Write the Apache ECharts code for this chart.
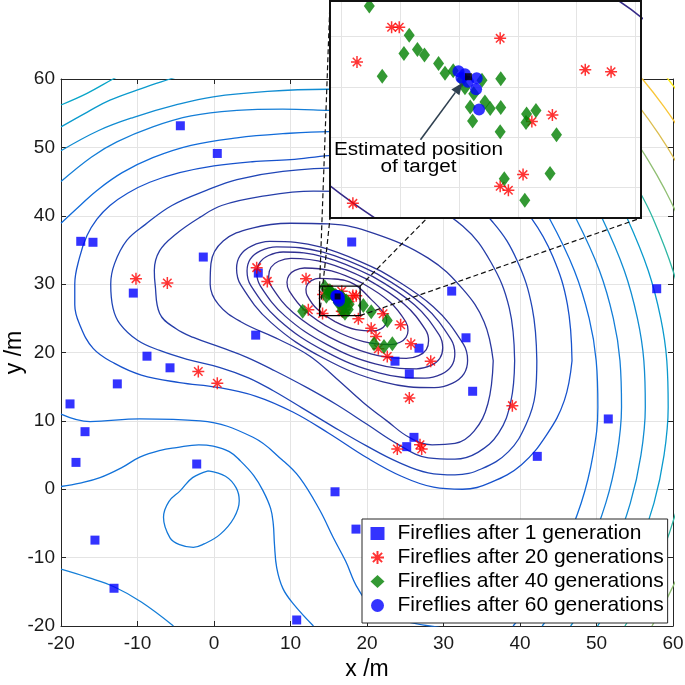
<!DOCTYPE html>
<html><head><meta charset="utf-8">
<script src="https://cdn.jsdelivr.net/npm/echarts@6/dist/echarts.min.js"></script>
<style>html,body{margin:0;padding:0;background:#fff}#c{width:685px;height:685px}</style>
</head><body><div id="c"></div>
<script>
// ---------------- data ----------------
const gen1 = [[-4.40,53.16],[0.43,49.11],[-17.42,36.26],[-15.82,36.12],[-1.40,33.96],[-10.55,28.69],[5.79,31.62],[5.45,22.54],[-8.76,19.46],[18.0,36.16],[31.07,28.98],[32.94,22.15],[26.80,20.63],[23.66,18.73],[25.53,16.88],[33.81,14.33],[51.54,10.28],[57.87,29.33],[26.14,7.59],[25.19,6.23],[42.26,4.81],[18.56,-5.83],[15.82,-0.37],[10.81,-19.12],[-2.26,3.69],[-18.82,12.48],[-16.86,8.42],[-18.04,3.93],[-15.56,-7.44],[-13.07,-14.48],[-12.64,15.41],[-5.75,17.76]];
const gen20 = [[-10.20,30.80],[-6.10,30.16],[5.58,32.41],[6.97,30.40],[12.03,30.80],[12.33,26.26],[-2.05,17.22],[0.43,15.50],[18.87,24.93],[22.10,25.67],[20.55,23.56],[21.18,22.34],[21.48,20.54],[22.65,19.41],[24.40,24.05],[25.75,21.27],[28.33,18.73],[25.53,13.36],[39.0,12.23],[23.96,5.89],[26.93,6.52],[27.15,5.89],[14.85,29.18],[14.98,29.18],[14.26,28.49],[16.70,28.96],[18.15,28.34],[18.59,28.30],[17.59,27.44],[17.24,27.31],[17.09,26.26],[16.70,26.03],[16.84,25.95],[14.19,25.69]];
const gen40 = [[11.59,26.05],[19.52,26.89],[20.55,25.95],[22.65,24.69],[20.92,21.27],[22.22,20.88],[23.31,21.27],[14.47,29.60],[15.15,29.02],[15.06,28.66],[15.29,28.74],[15.41,28.63],[14.69,28.21],[15.65,28.46],[15.76,28.27],[15.90,28.32],[16.39,28.13],[16.25,27.86],[16.71,28.16],[16.19,27.60],[16.44,27.70],[16.53,27.57],[16.71,27.59],[16.23,27.32],[16.70,27.11],[17.15,27.46],[17.14,27.29],[17.31,27.53],[17.66,27.05],[16.77,26.18],[17.55,26.28],[17.12,25.75],[16.05,28.14],[16.10,27.98]];
const gen60 = [[15.99,28.31],[16.04,28.18],[16.15,28.10],[16.30,28.17],[16.29,27.95],[16.34,27.55],[16.10,28.25]];
const target = [16.16, 28.20];
const zoomX = [13.8, 19.1];
const zoomY = [25.4, 29.7];
const seriesNames = ['Fireflies after 1 generation','Fireflies after 20 generations','Fireflies after 40 generations','Fireflies after 60 generations'];

// ---- contour lines (x, y pairs) ----
const cE1 = [[15.82,24.51],[18.56,23.34],[20.95,23.15],[21.82,23.45],[22.37,23.99],[22.58,24.74],[22.2,25.8],[20.6,27.7],[18.3,30.0],[15.8,30.75],[13.65,30.85],[12.78,30.55],[12.23,30.01],[12.02,29.26],[12.17,28.36],[13.48,26.35],[15.82,24.51]];
const cE2 = [[19.44,30.10],[15.35,31.93],[11.82,32.36],[10.57,32.00],[9.80,31.29],[9.54,30.27],[9.83,29.00],[11.90,26.12],[15.46,23.40],[19.56,21.58],[23.08,21.14],[24.33,21.50],[25.10,22.21],[25.36,23.23],[25.07,24.50],[23.00,27.39],[19.44,30.10]];
const cE3 = [[20.10,30.66],[14.69,33.11],[10.06,33.77],[8.44,33.35],[7.45,32.47],[7.15,31.17],[7.56,29.56],[10.36,25.81],[15.10,22.24],[20.51,19.79],[25.14,19.13],[26.76,19.55],[27.75,20.43],[28.05,21.73],[27.64,23.35],[24.84,27.09],[20.10,30.66]];
const cE4 = [[20.71,31.14],[14.42,33.96],[9.03,34.70],[7.14,34.19],[5.97,33.14],[5.60,31.61],[6.07,29.71],[9.30,25.32],[14.79,21.16],[21.08,18.34],[26.47,17.61],[28.37,18.11],[29.53,19.16],[29.90,20.69],[29.43,22.59],[26.20,26.98],[20.71,31.14]];
const cE5 = [[21.27,31.53],[14.24,34.67],[8.19,35.45],[6.06,34.86],[4.74,33.65],[4.32,31.92],[4.82,29.77],[8.41,24.84],[14.53,20.17],[21.56,17.03],[27.61,16.25],[29.74,16.84],[31.06,18.05],[31.48,19.78],[30.98,21.93],[27.39,26.86],[21.27,31.53]];
const cE6 = [[21.82,31.91],[14.01,35.40],[7.28,36.24],[4.90,35.57],[3.43,34.22],[2.95,32.28],[3.50,29.88],[7.47,24.37],[14.28,19.19],[22.09,15.70],[28.82,14.86],[31.20,15.53],[32.67,16.88],[33.15,18.82],[32.60,21.22],[28.63,26.73],[21.82,31.91]];
const cE7 = [[36.5,18.8],[35.3,24.5],[32.5,29.3],[28,33.8],[21,37.4],[15,38.8],[10,38.9],[5,38.2],[1.2,36.3],[-0.4,33],[-0.5,30],[0.6,27],[3.5,24.5],[8.5,21.9],[12.5,19.5],[16,16.2],[19.5,12.7],[22.6,10],[25.5,7.6],[28.5,6.5],[31.5,6.7],[34,8.5],[35.8,12.5],[36.5,18.8]];
const cE8 = [[39.3,18.8],[38.6,26.5],[36.2,33.2],[32.5,38.5],[27,42],[20,43.5],[13,43.6],[6,42.8],[1,41.5],[-1.8,39.8],[-5,37.3],[-7.1,34.9],[-7.8,32],[-7.7,30],[-7.1,25.7],[-5,23.5],[-2.7,22.2],[1,20.7],[4.3,19.3],[8,17.3],[12.1,14.9],[16,12.4],[20,9.5],[24,6.6],[28,4.6],[31.5,4.4],[34.5,5.4],[37.2,8.2],[38.8,12.8],[39.3,18.8]];
const cE9 = [[42.2,18.8],[41.6,26.5],[39.6,33.5],[36.5,39],[32,43.5],[25,46.2],[17,47],[9,46.5],[3,45.3],[-1,43.7],[-5.5,41.5],[-9,38.7],[-11.4,36.4],[-13,33],[-13.5,30],[-13.2,26.5],[-12.3,24.2],[-10,21.8],[-7.1,20.3],[-3.5,19.0],[0.8,17.8],[4.5,16.3],[7.75,14.4],[11.5,11.9],[15.5,9.2],[20,6.3],[24,4.0],[28,2.4],[31.5,2.1],[35,3.0],[38.5,5.5],[40.8,9.5],[42,14],[42.2,18.8]];
const cC1 = [[46.8,18.8],[46.2,27],[44.3,34],[41.5,39.6],[37.5,44.5],[31,48.2],[23,49.3],[15,48.8],[10,48.2],[5,47.9],[0,47.3],[-4.5,46.3],[-8.4,44.9],[-11.3,43.3],[-13.6,41.5],[-15.3,39.5],[-16.6,37.1],[-17.6,33.8],[-18.2,30],[-18.2,27],[-17.6,24.2],[-15.8,20.6],[-13,18.4],[-9.5,16.7],[-4.5,15.6],[0.5,14.9],[5.5,13.6],[10.3,11.3],[15,8.2],[20,4.6],[24.5,1.9],[28.7,0.3],[32.5,0.0],[36.2,1.0],[40.2,3.6],[43.5,8.0],[45.8,13.0],[46.8,18.8]];
const cC2 = [[41.3,44],[43.85,39.6],[47.1,32],[49.04,25],[49.96,18.8],[50.18,12],[49.54,5],[48.0,-2],[45.47,-9],[41.81,-16],[39.1,-20]];
const cC3 = [[44.95,44],[47.32,39.6],[50.38,32],[52.2,25],[53.07,18.8],[53.27,12],[52.67,5],[51.22,-2],[48.84,-9],[45.41,-16],[42.9,-20]];
const cC4 = [[48.53,44],[50.75,39.6],[53.63,32],[55.35,25],[56.19,18.8],[56.38,12],[55.81,5],[54.43,-2],[52.18,-9],[48.96,-16],[46.62,-20]];
const cC5 = [[51.93,44],[54.02,39.6],[56.76,32],[58.4,25],[59.19,18.8],[59.37,12],[58.83,5],[57.52,-2],[55.38,-9],[52.34,-16],[50.14,-20]];
const cC6 = [[53.27,48],[55.41,44],[57.39,39.6],[59.99,32],[61.55,25],[62.3,18.8],[61.96,5],[60.71,-2],[58.68,-9],[55.8,-16],[53.72,-20]];
const cC7 = [[54.46,52],[56.82,48],[58.85,44],[60.73,39.6],[63.2,32],[65.4,18.8],[65.08,5],[61.95,-9],[59.21,-16],[57.25,-20]];
const cC8 = [[52.6,60],[55.54,56],[58.1,52],[60.34,48],[62.25,44]];
const cC9 = [[52.81,64],[56.0,60],[58.79,56],[61.23,52]];
const cC10 = [[54.64,66],[57.87,62],[59.34,60],[60.71,58]];
const cU1 = [[-20,56.2],[-16.6,57.9],[-13.2,60],[-11,61.3]];
const cU2 = [[-20,53.0],[-16.5,55.2],[-13.6,56.9],[-9.5,58.6],[-5.75,60],[-3,61]];
const cU3 = [[-20,49.5],[-15,52.5],[-10.5,54.4],[-5,56.2],[-0.1,57.4],[7,58.2],[14.7,58.5],[20,58.5]];
const cU4 = [[-20,45],[-16,48.6],[-12.7,50.8],[-8,53],[-3,54.6],[3,55.4],[9,55.6],[15,55.4],[20,55.2]];
const cU5 = [[-20,38.9],[-17.5,41.5],[-15.3,43.7],[-12,46.3],[-8,48.5],[-3,50.3],[3,51.4],[9,52],[15,52.3],[20,52.3]];
const cRidge = [[-20,11],[-16.2,9.9],[-9.7,10.3],[-1.8,10.0],[5.1,7.6],[9,4.2],[11.2,1.7],[13.8,-3],[15.6,-7.1],[17.2,-10.5],[18.8,-14.5],[21,-17.5],[25,-19.3],[29.5,-20.2]];
const cSad = [[-20,0.4],[-17.5,0.9],[-14.9,1.7],[-12,3.2],[-9.7,4.7],[-7,5.7],[-4.9,6.1],[-2,6.5],[-0.1,6.3],[2,5.5],[3.4,4.2],[5.2,2],[6.4,-0.2],[7.4,-2.8],[7.75,-5.1],[7.9,-8],[8.2,-11.5],[9,-14.5],[10.4,-16.8],[13,-20]];
const cLoop = [[-0.75,2.7],[1.5,1.9],[2.9,0.2],[3.3,-1.7],[2.6,-4.2],[0.8,-6.6],[-1.3,-8.0],[-2.7,-8.5],[-4.5,-8.1],[-5.75,-7.1],[-6.6,-4.1],[-5.9,-1.8],[-4.4,-0.2],[-2.8,1.7],[-0.75,2.7]];
const cBL = [[-20,-11.7],[-16.5,-12.9],[-13,-14.3],[-9.5,-16.5],[-5.3,-20]];
// contour -> position on the colour scale (0 = lowest level, 1 = highest)
const contourList = [
  [cE1,0.0],[cE2,0.005],[cE3,0.01],[cE4,0.015],[cE5,0.02],[cE6,0.025],[cE7,0.035],[cE8,0.05],[cE9,0.07],[cC1,0.10],
  [cC2,0.18],[cC3,0.24],[cC4,0.29],[cC5,0.34],[cC6,0.5],[cC7,0.64],[cC8,0.78],[cC9,0.86],[cC10,0.96],
  [cU1,0.38],[cU2,0.34],[cU3,0.29],[cU4,0.24],[cU5,0.18],
  [cRidge,0.18],[cSad,0.2],[cLoop,0.22],[cBL,0.24]
];

// ---------------- helpers ----------------
function parula(t){
  const s=[[0,[53,42,135]],[0.125,[15,92,221]],[0.25,[20,129,214]],[0.375,[6,164,202]],[0.5,[46,183,164]],[0.625,[135,191,119]],[0.75,[209,187,89]],[0.875,[254,200,50]],[1,[249,251,14]]];
  t=Math.max(0,Math.min(1,t));
  for(let i=1;i<s.length;i++){ if(t<=s[i][0]){ const a=s[i-1],b=s[i],f=(t-a[0])/(b[0]-a[0]);
    const c=a[1].map((v,k)=>Math.round(v+(b[1][k]-v)*f)); return 'rgb('+c.join(',')+')'; } }
  return 'rgb(249,251,14)';
}
const FONT = "'Liberation Sans', Arial, Helvetica, sans-serif";
const starPath = 'path://M0,-10L0,10M-10,0L10,0M-7.07,-7.07L7.07,7.07M-7.07,7.07L7.07,-7.07';
const styles = [
  {symbol:'rect', symbolSize:9, itemStyle:{color:'#0000ff'}},
  {symbol:starPath, symbolSize:12, itemStyle:{color:'rgba(0,0,0,0)', borderColor:'#ff0000', borderWidth:1.5}},
  {symbol:'diamond', symbolSize:[11,15], itemStyle:{color:'#008000'}},
  {symbol:'circle', symbolSize:12, itemStyle:{color:'#0000ff'}}
];
const sets = [gen1, gen20, gen40, gen60];

function contourSeries(xi, z, w){
  return contourList.map(([pts,lev]) => ({type:'line', xAxisIndex:xi, yAxisIndex:xi, data:pts, symbol:'none', smooth:0.4,
    lineStyle:{color:parula(lev), width:w}, silent:true, z:z, animation:false}));
}
function scatterSeries(xi, z){
  return sets.map((d,i)=>Object.assign({type:'scatter', name:seriesNames[i], xAxisIndex:xi, yAxisIndex:xi, data:d, z:z+i, animation:false}, styles[i]));
}
const axisCol = '#262626';
const series = [].concat(
  contourSeries(0, 2, 1.3),
  scatterSeries(0, 5),
  [{type:'scatter', xAxisIndex:0, yAxisIndex:0, data:[target], symbol:'rect', symbolSize:6, itemStyle:{color:'#000'}, z:10}],
  contourSeries(2, 102, 1.6),
  scatterSeries(2, 105),
  [{type:'scatter', xAxisIndex:2, yAxisIndex:2, data:[target], symbol:'rect', symbolSize:7, itemStyle:{color:'#000'}, z:112}]
);

const chart = echarts.init(document.getElementById('c'), null, {renderer:'canvas'});
const baseAxis = {type:'value', axisLine:{show:true, onZero:false, lineStyle:{color:axisCol, width:1}},
  axisTick:{show:true, inside:true, length:5, lineStyle:{color:axisCol}}, splitLine:{show:false}};
chart.setOption({
  animation:false,
  grid:[{left:61, top:79, width:612, height:547, containLabel:false, outerBoundsMode:'none'},
        {left:330, top:1, width:311, height:217, containLabel:false, outerBoundsMode:'none'}],
  legend:{data:seriesNames, orient:'vertical', left:362, top:519, itemWidth:14, itemHeight:13, itemGap:3,
    padding:[4,4,7,8], backgroundColor:'#fff', borderColor:axisCol, borderWidth:1, z:130,
    textStyle:{fontFamily:FONT, fontSize:21, color:'#000', padding:[0,0,0,8], lineHeight:21}},
  xAxis:[
    Object.assign({}, baseAxis, {gridIndex:0, min:-20, max:60, interval:10, position:'bottom',
      axisLabel:{fontFamily:FONT, fontSize:19, color:'#1a1a1a', margin:8},
      splitLine:{show:true, lineStyle:{color:'#e4e4e4'}},
      name:'x /m', nameLocation:'middle', nameGap:30, nameTextStyle:{fontFamily:FONT, fontSize:23, color:'#000'}}),
    Object.assign({}, baseAxis, {gridIndex:0, min:-20, max:60, interval:10, position:'top', axisLabel:{show:false}}),
    {type:'value', gridIndex:1, min:zoomX[0], max:zoomX[1], z:101, axisLine:{show:false}, axisTick:{show:false}, axisLabel:{show:false},
      splitLine:{show:true, lineStyle:{color:'#e4e4e4'}}}
  ],
  yAxis:[
    Object.assign({}, baseAxis, {gridIndex:0, min:-20, max:60, interval:10, position:'left',
      axisLabel:{fontFamily:FONT, fontSize:19, color:'#1a1a1a', margin:6},
      splitLine:{show:true, lineStyle:{color:'#e4e4e4'}},
      name:'y /m', nameLocation:'middle', nameGap:35, nameRotate:90, nameMoveOverlap:false,
      nameTextStyle:{fontFamily:FONT, fontSize:23, color:'#000'}}),
    Object.assign({}, baseAxis, {gridIndex:0, min:-20, max:60, interval:10, position:'right', axisLabel:{show:false}}),
    {type:'value', gridIndex:1, min:zoomY[0], max:zoomY[1], z:101, axisLine:{show:false}, axisTick:{show:false}, axisLabel:{show:false},
      splitLine:{show:true, lineStyle:{color:'#e4e4e4'}}}
  ],
  series: series
});

// overlay: zoom box, connectors, inset frame, annotation
const P = xy => chart.convertToPixel({xAxisIndex:0, yAxisIndex:0}, xy);
const Q = xy => chart.convertToPixel({xAxisIndex:2, yAxisIndex:2}, xy);
const bTL=P([zoomX[0],zoomY[1]]), bTR=P([zoomX[1],zoomY[1]]), bBL=P([zoomX[0],zoomY[0]]), bBR=P([zoomX[1],zoomY[0]]);
const iTL=Q([zoomX[0],zoomY[1]]), iTR=Q([zoomX[1],zoomY[1]]), iBL=Q([zoomX[0],zoomY[0]]), iBR=Q([zoomX[1],zoomY[0]]);
const dash = (a,b)=>({type:'line', z:50, shape:{x1:a[0],y1:a[1],x2:b[0],y2:b[1]}, style:{stroke:'#111', lineWidth:1.2, lineDash:[5,3]}});
const tp = Q(target);
const tip = [tp[0]-6, tp[1]+6], tail = [tp[0]-48, tp[1]+63];
const ang = Math.atan2(tip[1]-tail[1], tip[0]-tail[0]);
const hl=12, hw=5;
const hb=[tip[0]-hl*Math.cos(ang), tip[1]-hl*Math.sin(ang)];
const head=[[tip[0],tip[1]],[hb[0]+hw*Math.sin(ang), hb[1]-hw*Math.cos(ang)],[hb[0]-hw*Math.sin(ang), hb[1]+hw*Math.cos(ang)]];
chart.setOption({graphic:[
  dash(bTL,iTL), dash(bBL,iBL), dash(bTR,iTR), dash(bBR,iBR),
  {type:'rect', z:60, shape:{x:bTL[0], y:bTL[1], width:bBR[0]-bTL[0], height:bBR[1]-bTL[1]}, style:{fill:null, stroke:'#000', lineWidth:1.3}},
  {type:'rect', z:100, shape:{x:iTL[0], y:iTL[1], width:iBR[0]-iTL[0], height:iBR[1]-iTL[1]}, style:{fill:'#fff', stroke:null}},
  {type:'rect', z:120, shape:{x:iTL[0], y:iTL[1], width:iBR[0]-iTL[0], height:iBR[1]-iTL[1]}, style:{fill:null, stroke:'#111', lineWidth:2}},
  {type:'line', z:115, shape:{x1:tail[0], y1:tail[1], x2:hb[0], y2:hb[1]}, style:{stroke:'#2f4050', lineWidth:1.6}},
  {type:'polygon', z:115, shape:{points:head}, style:{fill:'#2f4050'}},
  {type:'text', z:116, x:tp[0]-50, y:tp[1]+82, scaleX:1.15, style:{text:'Estimated position\nof target', font:'18px '+FONT, fill:'#000', align:'center', verticalAlign:'middle', lineHeight:17}}
]});
</script></body></html>
